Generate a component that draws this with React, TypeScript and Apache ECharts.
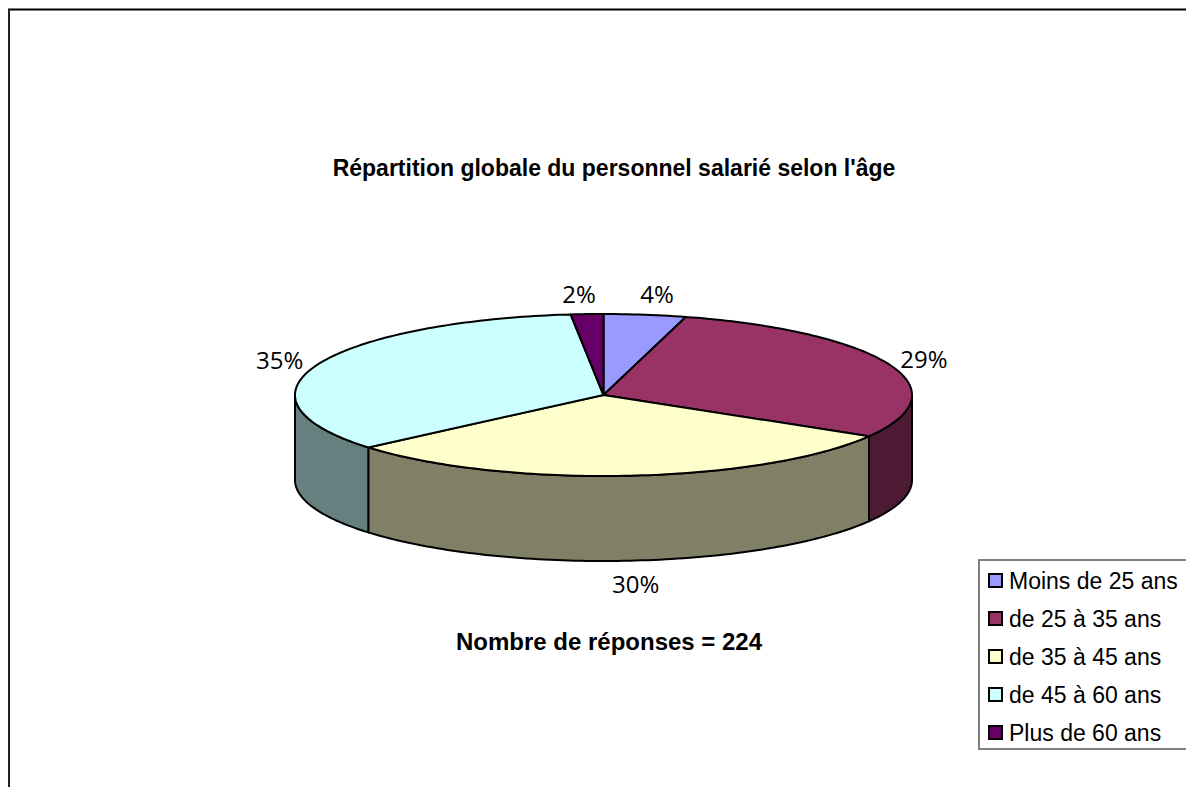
import React, { useEffect, useRef } from "react";
import * as echarts from "echarts";

const titleText = "Répartition globale du personnel salarié selon l'âge";
const subtitleText = "Nombre de réponses = 224";
const ageGroups = ["Moins de 25 ans", "de 25 à 35 ans", "de 35 à 45 ans", "de 45 à 60 ans", "Plus de 60 ans"];
const sharePercents = [4.3, 29.2, 30.3, 34.5, 1.7];
const topColors = ["#9999FF", "#993366", "#FFFFCC", "#CCFFFF", "#660066"];
const sideColors = ["#4D4D80", "#4D1A33", "#808066", "#668080", "#330033"];
const labelNudgeX = [7, 0, 3, -3, -6];
const labelNudgeY = [0, 2, 2, 2, 0];

const CX = 603.5, CY = 395, RX = 308.5, RY = 81, DEPTH = 85;
const LABEL_FONT = '24px "Open Sans"';
const total = sharePercents.reduce((a, b) => a + b, 0);

const pt = (t: number, dy = 0): number[] => [CX + RX * Math.sin(t), CY - RY * Math.cos(t) + dy];

function arc(a0: number, a1: number, dy = 0): number[][] {
  const steps = Math.max(2, Math.ceil(Math.abs(a1 - a0) / 0.02));
  const out: number[][] = [];
  for (let i = 0; i <= steps; i++) out.push(pt(a0 + ((a1 - a0) * i) / steps, dy));
  return out;
}

function renderSlice(index: number) {
  return (_params: any, api: any) => {
    const before = api.value(0) as number;
    const value = api.value(1) as number;
    const a0 = (before / total) * Math.PI * 2;
    const a1 = ((before + value) / total) * Math.PI * 2;
    const children: any[] = [];
    const s0 = Math.max(a0, Math.PI / 2);
    const s1 = Math.min(a1, (Math.PI * 3) / 2);
    if (s1 > s0) {
      children.push({
        type: "polygon",
        shape: { points: [...arc(s0, s1), ...arc(s1, s0, DEPTH)] },
        style: { fill: sideColors[index], stroke: "#000", lineWidth: 2, lineJoin: "round" },
      });
    }
    children.push({
      type: "polygon",
      shape: { points: [[CX, CY], ...arc(a0, a1)] },
      style: { fill: topColors[index], stroke: "#000", lineWidth: 2, lineJoin: "round" },
    });
    const mid = (a0 + a1) / 2;
    const front = Math.cos(mid) < 0;
    children.push({
      type: "text",
      style: {
        text: `${Math.round(value)}%`,
        x: CX + (RX + 37) * Math.sin(mid) + labelNudgeX[index],
        y: CY - (RY + 21) * Math.cos(mid) + (front ? DEPTH : 0) + labelNudgeY[index],
        align: "center",
        verticalAlign: "middle",
        font: LABEL_FONT,
        fill: "#000",
      },
    });
    return { type: "group", children };
  };
}

export default function App() {
  const ref = useRef<HTMLDivElement>(null);
  useEffect(() => {
    document.body.style.margin = "0";
    document.body.style.overflow = "hidden";
    const chart = echarts.init(ref.current!, null, { renderer: "svg" });
    let running = 0;
    chart.setOption({
      animation: false,
      backgroundColor: "#fff",
      title: [
        {
          text: titleText,
          left: 609,
          top: 151,
          textAlign: "center",
          textStyle: { fontFamily: "Liberation Sans", fontSize: 23, fontWeight: "bold", color: "#000" },
        },
        {
          text: subtitleText,
          left: 604,
          top: 624,
          textAlign: "center",
          textStyle: { fontFamily: "Liberation Sans", fontSize: 24, fontWeight: "bold", color: "#000" },
        },
      ],
      legend: {
        orient: "vertical",
        left: 979,
        top: 560,
        padding: [9, 30, 5, 9],
        itemWidth: 13,
        itemHeight: 13,
        itemGap: 15,
        selectedMode: false,
        icon: "rect",
        backgroundColor: "#fff",
        borderColor: "#808080",
        borderWidth: 2,
        itemStyle: { borderColor: "#000", borderWidth: 2 },
        textStyle: { fontFamily: "Liberation Sans", fontSize: 23, color: "#000", padding: [0, 0, 0, 2] },
        data: ageGroups,
      },
      graphic: [
        { type: "line", shape: { x1: 8, y1: 9.5, x2: 1186, y2: 9.5 }, style: { stroke: "#000", lineWidth: 2 } },
        { type: "line", shape: { x1: 9, y1: 9, x2: 9, y2: 787 }, style: { stroke: "#222", lineWidth: 2 } },
      ],
      series: ageGroups.map((name, i) => {
        const before = running;
        running += sharePercents[i];
        return {
          type: "custom",
          name,
          coordinateSystem: "none",
          silent: true,
          itemStyle: { color: topColors[i] },
          data: [[before, sharePercents[i]]],
          renderItem: renderSlice(i),
        };
      }),
    });
    return () => chart.dispose();
  }, []);
  return <div ref={ref} style={{ position: "absolute", left: 0, top: 0, width: 1186, height: 787 }} />;
}
